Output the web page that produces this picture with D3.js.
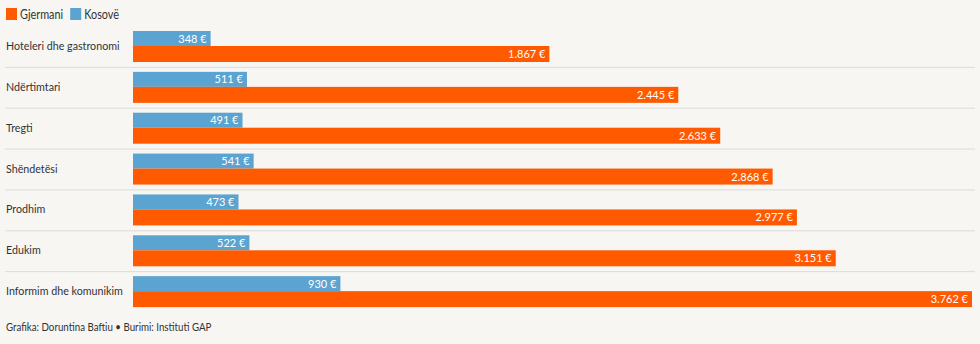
<!DOCTYPE html>
<html>
<head>
<meta charset="utf-8">
<script src="https://cdn.jsdelivr.net/npm/d3@7"></script>
<style>
  html, body { margin: 0; padding: 0; background: #f7f6f3; }
  svg { display: block; font-family: Lato, "Noto Sans", sans-serif; }
</style>
</head>
<body>
<svg id="chart" width="980" height="344"></svg>
<script>
// Average monthly wages by sector, Germany vs Kosovo (EUR)
const categories = [
  "Hoteleri dhe gastronomi",
  "Ndërtimtari",
  "Tregti",
  "Shëndetësi",
  "Prodhim",
  "Edukim",
  "Informim dhe komunikim"
];
const kosove = [348, 511, 491, 541, 473, 522, 930];
const gjermani = [1867, 2445, 2633, 2868, 2977, 3151, 3762];
const seriesNames = ["Gjermani", "Kosovë"];
const sourceText = "Grafika: Doruntina Baftiu • Burimi: Instituti GAP";

const colors = { "Gjermani": "#ff5a00", "Kosovë": "#5ba3d0" };
const condense = 0.87; // narrow the text horizontally for a condensed look

const svg = d3.select("#chart");

const x = d3.scaleLinear().domain([0, 3762]).range([133, 972]);
const y = d3.scaleBand().domain(categories).range([31, 317]).paddingInner(0);
const rowH = y.bandwidth();
const blueH = 15, orangeH = 16;

const fmt = v => d3.format(",")(v).replace(/,/g, ".") + " €";

// legend
const legend = svg.append("g").attr("transform", "translate(6,8)");
let lx = 0;
seriesNames.forEach(name => {
  const g = legend.append("g").attr("transform", `translate(${lx},0)`);
  g.append("rect").attr("width", 11).attr("height", 12).attr("fill", colors[name]);
  const t = g.append("text")
    .attr("transform", `translate(14,10.5) scale(${condense},1)`)
    .attr("font-size", 12.5).attr("fill", "#333").text(name);
  lx += 14 + t.node().getComputedTextLength() * condense + 7;
});

// row separators
categories.slice(0, -1).forEach(c => {
  svg.append("line")
    .attr("x1", 5).attr("x2", 975)
    .attr("y1", y(c) + rowH - 4.5).attr("y2", y(c) + rowH - 4.5)
    .attr("stroke", "#dcdbd8").attr("stroke-width", 1);
});

const rows = svg.selectAll("g.row").data(categories).join("g")
  .attr("class", "row")
  .attr("transform", c => `translate(0,${y(c)})`);

rows.append("text")
  .attr("transform", `translate(6,${blueH + 4}) scale(${condense},1)`)
  .attr("font-size", 12.3).attr("fill", "#333")
  .text(d => d);

// Kosovo bars
rows.append("rect")
  .attr("x", x(0)).attr("y", 0)
  .attr("width", (d, i) => x(kosove[i]) - x(0))
  .attr("height", blueH)
  .attr("fill", colors["Kosovë"]);
rows.append("text")
  .attr("x", (d, i) => x(kosove[i]) - 4)
  .attr("y", blueH / 2 + 4)
  .attr("text-anchor", "end")
  .attr("font-size", 11).attr("fill", "#fff")
  .text((d, i) => fmt(kosove[i]));

// Germany bars
rows.append("rect")
  .attr("x", x(0)).attr("y", blueH)
  .attr("width", (d, i) => x(gjermani[i]) - x(0))
  .attr("height", orangeH)
  .attr("fill", colors["Gjermani"]);
rows.append("text")
  .attr("x", (d, i) => x(gjermani[i]) - 4)
  .attr("y", blueH + orangeH / 2 + 4)
  .attr("text-anchor", "end")
  .attr("font-size", 11).attr("fill", "#fff")
  .text((d, i) => fmt(gjermani[i]));

// source line
svg.append("text")
  .attr("transform", `translate(6,331) scale(${condense},1)`)
  .attr("font-size", 11.2).attr("fill", "#333")
  .text(sourceText);
</script>
</body>
</html>
